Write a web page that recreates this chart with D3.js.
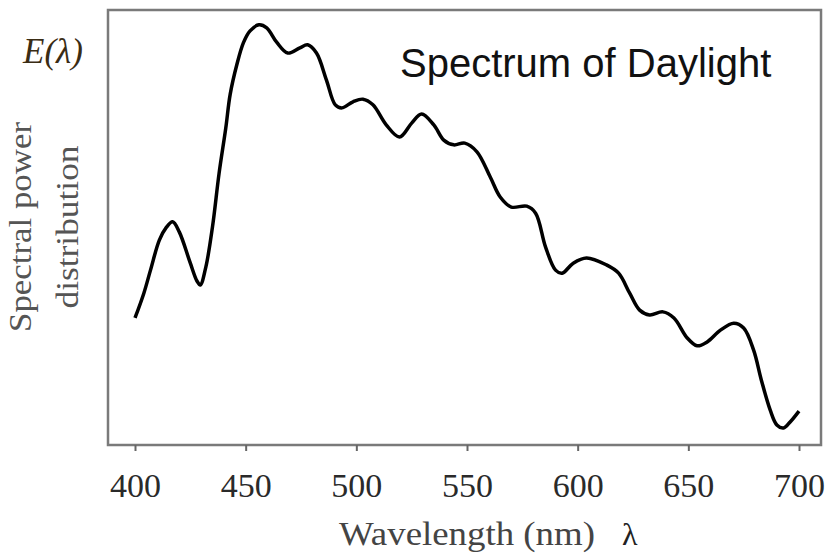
<!DOCTYPE html>
<html>
<head>
<meta charset="utf-8">
<script src="https://cdn.jsdelivr.net/npm/d3@7"></script>
<style>
  body { margin: 0; background: #fff; }
  svg { display: block; }
</style>
</head>
<body>
<div id="chart"></div>
<script>
// wavelength samples (nm)
const wavelengths = [400, 404, 407, 411, 414, 417, 420, 425, 428, 429.5, 432, 435, 438, 441, 443, 446, 449, 452, 456, 459.5,
    464, 469, 474.5, 478, 482, 486.5, 490.5, 493.5, 498.5, 503, 507.5, 513.5, 519.5, 525, 529.5, 535, 539.5, 544, 549, 554.5,
    560.5, 565, 570, 577, 581, 585.5, 590, 593, 598, 604, 613, 618.5, 623.5, 628, 632.5, 638.5, 643.5, 649.5, 654, 658.5,
    664.5, 670.5, 675, 679.5, 683, 687, 690, 693, 696, 700];

// relative spectral power E(lambda)
const power = [0.292, 0.349, 0.402, 0.471, 0.499, 0.513, 0.490, 0.418, 0.377, 0.368, 0.409, 0.501, 0.625, 0.728, 0.806, 0.874, 0.925, 0.952, 0.966, 0.959,
    0.926, 0.901, 0.913, 0.920, 0.901, 0.839, 0.782, 0.775, 0.789, 0.795, 0.782, 0.736, 0.708, 0.740, 0.761, 0.736, 0.701, 0.690, 0.694, 0.674,
    0.616, 0.570, 0.547, 0.549, 0.533, 0.455, 0.402, 0.395, 0.418, 0.430, 0.414, 0.395, 0.349, 0.310, 0.299, 0.306, 0.292, 0.246, 0.228, 0.237,
    0.264, 0.280, 0.269, 0.218, 0.149, 0.080, 0.046, 0.039, 0.053, 0.078];

const xTicks = [400, 450, 500, 550, 600, 650, 700];

const width = 829;
const height = 558;
const frame = { left: 108, top: 10, right: 821, bottom: 445 };

const svg = d3.select('#chart').append('svg')
    .attr('width', width)
    .attr('height', height);

const x = d3.scaleLinear()
    .domain([400, 700])
    .range([135, 799]);

const y = d3.scaleLinear()
    .domain([0, 1])
    .range([frame.bottom, frame.top]);

// box around the plot
svg.append('rect')
    .attr('x', frame.left)
    .attr('y', frame.top)
    .attr('width', frame.right - frame.left)
    .attr('height', frame.bottom - frame.top)
    .attr('fill', 'none')
    .attr('stroke', '#7a7a7a')
    .attr('stroke-width', 2.5);

// x axis
const xAxis = svg.append('g')
    .attr('transform', `translate(0,${frame.bottom})`)
    .call(d3.axisBottom(x).tickValues(xTicks).tickSize(6).tickFormat(d3.format('d')));

xAxis.select('.domain').remove();
xAxis.selectAll('line').attr('stroke', '#666').attr('stroke-width', 2);
xAxis.selectAll('text')
    .attr('y', 52)
    .attr('dy', 0)
    .attr('fill', '#2a2a2a')
    .style('font-family', '"Liberation Serif", serif')
    .style('font-size', '34px');

// spectrum curve
const points = wavelengths.map((w, i) => [w, power[i]]);
const line = d3.line()
    .x(d => x(d[0]))
    .y(d => y(d[1]))
    .curve(d3.curveCatmullRom.alpha(0.5));

svg.append('path')
    .datum(points)
    .attr('d', line)
    .attr('fill', 'none')
    .attr('stroke', '#000')
    .attr('stroke-width', 3.5)
    .attr('stroke-linejoin', 'round');

// title inside plot
svg.append('text')
    .attr('x', 400)
    .attr('y', 77)
    .attr('fill', '#111')
    .style('font-family', '"Liberation Sans", Arial, sans-serif')
    .style('font-size', '40px')
    .text('Spectrum of Daylight');

// E(lambda) label
svg.append('text')
    .attr('x', 23)
    .attr('y', 63)
    .attr('fill', '#3a2c14')
    .style('font-family', '"Liberation Serif", serif')
    .style('font-style', 'italic')
    .style('font-size', '35px')
    .text('E(λ)');

// y axis title, two lines
const yTitle = svg.append('g')
    .attr('transform', 'translate(0,227) rotate(-90)');

yTitle.append('text')
    .attr('x', 0)
    .attr('y', 31)
    .attr('text-anchor', 'middle')
    .attr('fill', '#555')
    .attr('textLength', 210)
    .attr('lengthAdjust', 'spacingAndGlyphs')
    .style('font-family', '"Liberation Serif", serif')
    .style('font-size', '31px')
    .text('Spectral power');

yTitle.append('text')
    .attr('x', 0)
    .attr('y', 78)
    .attr('text-anchor', 'middle')
    .attr('fill', '#555')
    .attr('textLength', 163)
    .attr('lengthAdjust', 'spacingAndGlyphs')
    .style('font-family', '"Liberation Serif", serif')
    .style('font-size', '31px')
    .text('distribution');

// x axis title
svg.append('text')
    .attr('x', 339)
    .attr('y', 545)
    .attr('fill', '#444')
    .attr('textLength', 256)
    .attr('lengthAdjust', 'spacingAndGlyphs')
    .style('font-family', '"Liberation Serif", serif')
    .style('font-size', '34px')
    .text('Wavelength (nm)');

svg.append('text')
    .attr('x', 622)
    .attr('y', 545)
    .attr('fill', '#222')
    .style('font-family', '"Liberation Serif", serif')
    .style('font-size', '32px')
    .text('λ');
</script>
</body>
</html>
